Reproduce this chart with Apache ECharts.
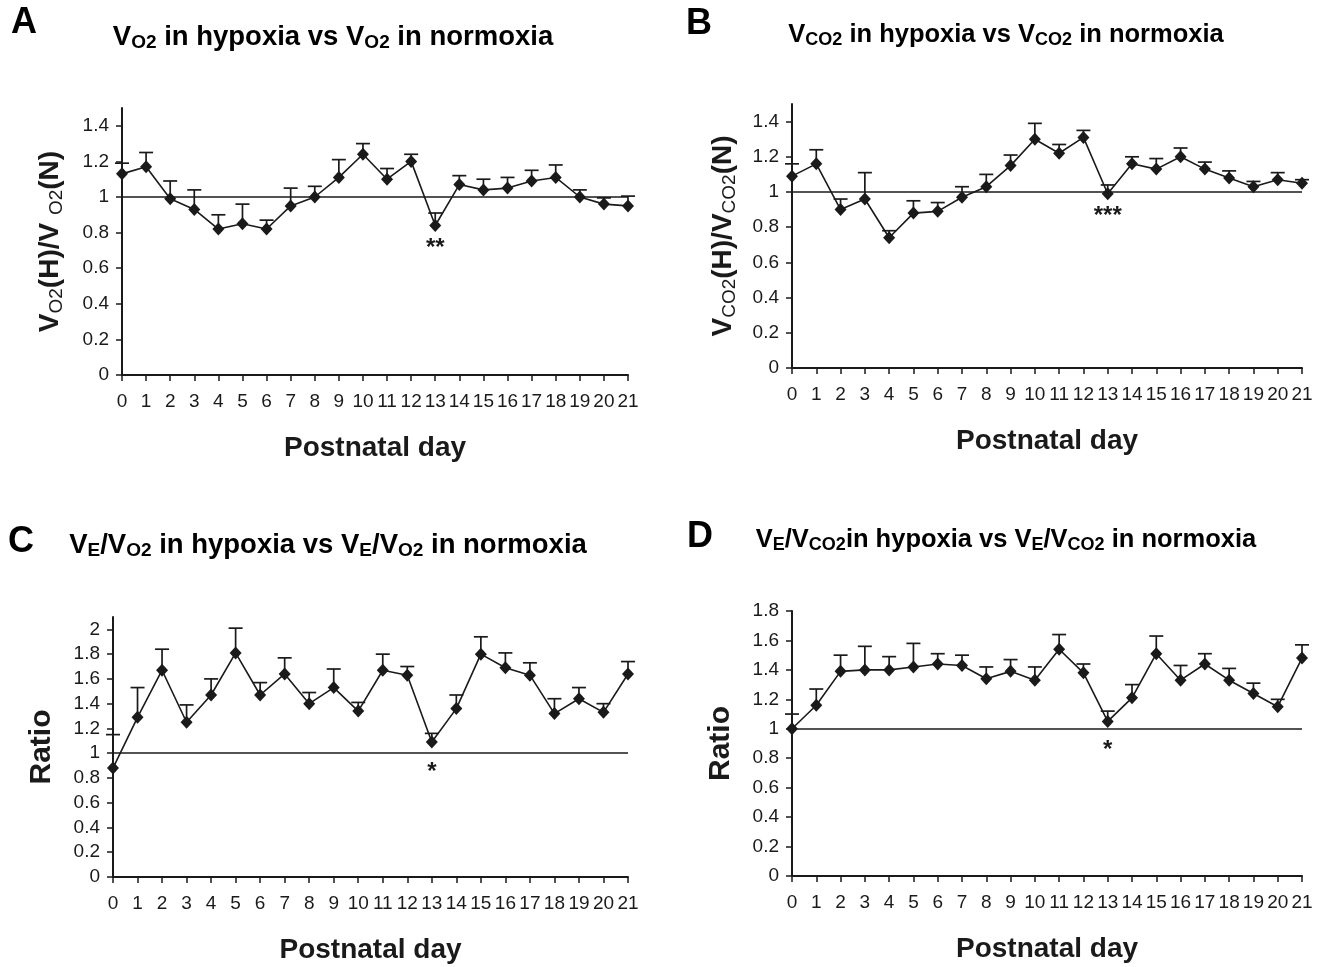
<!DOCTYPE html>
<html>
<head>
<meta charset="utf-8">
<script src="https://cdn.jsdelivr.net/npm/echarts@6/dist/echarts.min.js"></script>
<style>
html,body{margin:0;padding:0;background:#ffffff;}
#chart{width:1329px;height:967px;}
</style>
</head>
<body>
<div id="chart"></div>
<script>
// ---------- data ----------
const days = ['0','1','2','3','4','5','6','7','8','9','10','11','12','13','14','15','16','17','18','19','20','21'];

const vo2Ratio    = [1.13,1.17,0.99,0.93,0.82,0.85,0.82,0.95,1.00,1.11,1.24,1.10,1.20,0.84,1.07,1.04,1.05,1.09,1.11,1.00,0.96,0.95];
const vo2Err      = [0.06,0.08,0.10,0.11,0.08,0.11,0.05,0.10,0.06,0.10,0.06,0.06,0.04,0.07,0.05,0.06,0.06,0.06,0.07,0.04,0.035,0.055];

const vco2Ratio   = [1.09,1.16,0.90,0.96,0.74,0.88,0.89,0.97,1.03,1.15,1.30,1.22,1.31,0.99,1.16,1.13,1.20,1.13,1.08,1.03,1.07,1.05];
const vco2Err     = [0.07,0.08,0.06,0.15,0.04,0.07,0.05,0.06,0.07,0.06,0.09,0.05,0.04,0.05,0.04,0.06,0.05,0.04,0.04,0.03,0.04,0.02];

const veVo2Ratio  = [0.88,1.29,1.67,1.25,1.47,1.81,1.47,1.64,1.40,1.53,1.34,1.67,1.63,1.09,1.36,1.80,1.69,1.63,1.32,1.44,1.33,1.64];
const veVo2Err    = [0.27,0.24,0.17,0.14,0.13,0.20,0.10,0.13,0.09,0.15,0.07,0.13,0.07,0.07,0.11,0.14,0.12,0.10,0.12,0.09,0.07,0.10];

const veVco2Ratio = [1.00,1.16,1.39,1.40,1.40,1.42,1.44,1.43,1.34,1.39,1.33,1.54,1.38,1.05,1.21,1.51,1.33,1.44,1.33,1.24,1.15,1.48];
const veVco2Err   = [0.10,0.11,0.11,0.16,0.09,0.16,0.07,0.07,0.08,0.08,0.09,0.10,0.06,0.07,0.09,0.12,0.10,0.07,0.08,0.07,0.05,0.09];

const yTicksAB = [0,0.2,0.4,0.6,0.8,1,1.2,1.4];
const yTicksC  = [0,0.2,0.4,0.6,0.8,1,1.2,1.4,1.6,1.8,2];
const yTicksD  = [0,0.2,0.4,0.6,0.8,1,1.2,1.4,1.6,1.8];

const referenceLevel = 1;
const sigDay = 13;
const sigMarks = ['**','***','*','*'];

const panelLetters = ['A','B','C','D'];
const panelTitles = [
  '{m|V}{s|O2}{m| in hypoxia vs V}{s|O2}{m| in normoxia}',
  '{m|V}{s|CO2}{m| in hypoxia vs V}{s|CO2}{m| in normoxia}',
  '{m|V}{s|E}{m|/V}{s|O2}{m| in hypoxia vs V}{s|E}{m|/V}{s|O2}{m| in normoxia}',
  '{m|V}{s|E}{m|/V}{s|CO2}{m|in hypoxia vs V}{s|E}{m|/V}{s|CO2}{m| in normoxia}'
];
const yNames = [
  '{m|V}{s|O2}{m|(H)/V }{s|O2}{m|(N)}',
  '{m|V}{s|CO2}{m|(H)/V}{s|CO2}{m|(N)}',
  '{r|Ratio}',
  '{r|Ratio}'
];
const xName = 'Postnatal day';

// ---------- layout ----------
const FONT = "'Liberation Sans', Arial, Helvetica, sans-serif";
const INK = '#1a1a1a';
const values = [vo2Ratio, vco2Ratio, veVo2Ratio, veVco2Ratio];
const errors = [vo2Err, vco2Err, veVo2Err, veVco2Err];
const ticks = [yTicksAB, yTicksAB, yTicksC, yTicksD];
const yMax = [1.5, 1.5, 2.1, 1.8];
const grids = [
  {left:122, top:108, width:506, height:267},
  {left:792, top:104, width:510, height:264},
  {left:113, top:617, width:515, height:260},
  {left:792, top:611, width:510, height:265}
];
const yNameGap = [56, 53, 54, 54];
const sigOffset = [23, 23, 30, 29];
const letterPos = [[24,23],[699,24],[21,542],[700,537]];
const titlePos = [[333,37],[1006,35],[328,545],[1006,540]];
const titleSize = [27.5, 25.5, 27.5, 25.5];

function richTitle(sz) {
  return {
    m: {fontFamily: FONT, fontSize: sz, fontWeight: 'bold', color: INK, lineHeight: Math.round(sz * 1.1)},
    s: {fontFamily: FONT, fontSize: Math.round(sz * 0.7), fontWeight: 'bold', color: INK, lineHeight: 13, verticalAlign: 'bottom'}
  };
}
const richY = {
  m: {fontFamily: FONT, fontSize: 28, fontWeight: 'bold', color: INK, lineHeight: 32},
  s: {fontFamily: FONT, fontSize: 19, fontWeight: 'normal', color: INK, lineHeight: 16, verticalAlign: 'bottom'},
  r: {fontFamily: FONT, fontSize: 30, fontWeight: 'bold', color: INK, lineHeight: 34}
};

function errorBarItem(params, api) {
  const i = api.value(0);
  const v = api.value(1);
  const e = api.value(2);
  const p0 = api.coord([i, v]);
  const p1 = api.coord([i, v + e]);
  const half = 7;
  const st = {stroke: INK, lineWidth: 1.7};
  return {
    type: 'group',
    children: [
      {type: 'line', shape: {x1: p0[0], y1: p0[1], x2: p1[0], y2: p1[1]}, style: st},
      {type: 'line', shape: {x1: p1[0] - half, y1: p1[1], x2: p1[0] + half, y2: p1[1]}, style: st}
    ]
  };
}

const xAxes = [], yAxes = [], series = [], graphics = [];
grids.forEach((g, k) => {
  xAxes.push({
    type: 'category', gridIndex: k, data: days, boundaryGap: false,
    axisLine: {lineStyle: {color: INK, width: 2}},
    axisTick: {show: true, alignWithLabel: true, length: 6, lineStyle: {color: INK, width: 1.5}},
    axisLabel: {interval: 0, margin: 17, fontFamily: FONT, fontSize: 19, color: INK},
    splitLine: {show: false},
    name: xName, nameLocation: 'middle', nameGap: 59,
    nameTextStyle: {fontFamily: FONT, fontSize: 28, fontWeight: 'bold', color: INK}
  });
  yAxes.push({
    type: 'value', gridIndex: k, min: 0, max: yMax[k],
    axisLine: {show: true, lineStyle: {color: INK, width: 2}},
    axisTick: {show: true, length: 6, customValues: ticks[k], lineStyle: {color: INK, width: 1.5}},
    axisLabel: {customValues: ticks[k], margin: 13, fontFamily: FONT, fontSize: 19, color: INK,
      formatter: v => String(v)},
    splitLine: {show: false},
    name: yNames[k], nameLocation: 'middle', nameRotate: 90, nameGap: yNameGap[k],
    nameTextStyle: {rich: richY}
  });
  const vals = values[k], errs = errors[k];
  series.push({
    type: 'custom', xAxisIndex: k, yAxisIndex: k, z: 1, silent: true,
    renderItem: errorBarItem,
    encode: {x: 0, y: 1},
    data: days.map((d, i) => [i, vals[i], errs[i]])
  });
  series.push({
    type: 'line', xAxisIndex: k, yAxisIndex: k, z: 3,
    data: vals,
    symbol: 'diamond', symbolSize: [12, 13],
    itemStyle: {color: INK},
    lineStyle: {color: INK, width: 1.6},
    markLine: {
      silent: true, symbol: ['none', 'none'],
      label: {show: false},
      lineStyle: {color: INK, width: 1.6, type: 'solid'},
      data: [{yAxis: referenceLevel}]
    }
  });
  series.push({
    type: 'custom', xAxisIndex: k, yAxisIndex: k, z: 4, silent: true,
    renderItem: (params, api) => {
      const p = api.coord([api.value(0), api.value(1)]);
      return {type: 'text', x: p[0], y: p[1] + sigOffset[k],
        style: {text: sigMarks[k], fill: INK, font: 'bold 24px ' + FONT,
          textAlign: 'center', textVerticalAlign: 'middle'}};
    },
    encode: {x: 0, y: 1},
    data: [[sigDay, vals[sigDay]]]
  });
  graphics.push({
    type: 'text', x: letterPos[k][0], y: letterPos[k][1],
    style: {text: panelLetters[k], fill: '#000', font: 'bold 36px ' + FONT,
      textAlign: 'center', textVerticalAlign: 'middle'}
  });
  graphics.push({
    type: 'text', x: titlePos[k][0], y: titlePos[k][1],
    style: {text: panelTitles[k], rich: richTitle(titleSize[k]), textAlign: 'center', textVerticalAlign: 'middle'}
  });
});

const chart = echarts.init(document.getElementById('chart'), null, {renderer: 'canvas'});
chart.setOption({
  animation: false,
  backgroundColor: '#ffffff',
  grid: grids.map(g => Object.assign({outerBoundsMode: 'none', containLabel: false}, g)),
  xAxis: xAxes,
  yAxis: yAxes,
  series: series,
  graphic: graphics
});
</script>
</body>
</html>
